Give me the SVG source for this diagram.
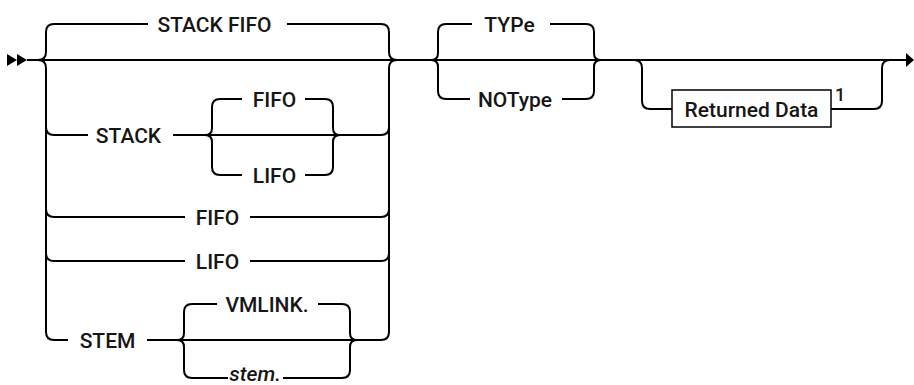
<svg xmlns="http://www.w3.org/2000/svg" width="914" height="385" viewBox="0 0 914 385">
<style>
.c{fill:none;stroke:#000;stroke-width:2}
.a{fill:#000;stroke:none}
.t{font-family:Roboto,"Liberation Sans",Arial,sans-serif;font-size:21px;font-weight:500;fill:#161616;text-anchor:middle}
.i{font-style:italic}
.s{font-family:Roboto,"Liberation Sans",Arial,sans-serif;font-size:18px;font-weight:500;fill:#161616}
.box{fill:#fff;stroke:#000;stroke-width:1.5}
</style>
<rect width="914" height="385" fill="#fff"/>
<g id="connectors">
  <polygon class="a" points="7,54 17,60 7,66"/>
  <polygon class="a" points="17,54 27,60 17,66"/>
  <polygon class="a" points="906,53 914,60 906,67"/>
  <path class="c" d="M27,60 H906"/>
  <path class="c" d="M38,60 Q46,60 46,52 V32 Q46,24 54,24 H148 M287,24 H381 Q389,24 389,32 V52 Q389,60 397,60"/>
  <path class="c" d="M38,60 Q46,60 46,68 V332 Q46,340 54,340 H68"/>
  <path class="c" d="M397,60 Q389,60 389,68 V332 Q389,340 381,340"/>
  <path class="c" d="M46,127 Q46,135 54,135 H88 M173,135 H381 Q389,135 389,127"/>
  <path class="c" d="M205,135 Q212,135 212,128 V107 Q212,99 220,99 H242 M305,99 H325 Q333,99 333,107 V128 Q333,135 340,135"/>
  <path class="c" d="M205,135 Q212,135 212,142 V167 Q212,175 220,175 H242 M305,175 H325 Q333,175 333,167 V142 Q333,135 340,135"/>
  <path class="c" d="M46,209 Q46,217 54,217 H185 M250,217 H381 Q389,217 389,209"/>
  <path class="c" d="M46,253 Q46,261 54,261 H185 M250,261 H381 Q389,261 389,253"/>
  <path class="c" d="M147,340 H381"/>
  <path class="c" d="M177,340 Q184,340 184,333 V312 Q184,304 192,304 H217 M318,304 H342 Q350,304 350,312 V333 Q350,340 357,340"/>
  <path class="c" d="M177,340 Q184,340 184,347 V370 Q184,378 192,378 H228 M283,378 H342 Q350,378 350,370 V347 Q350,340 357,340"/>
  <path class="c" d="M431,60 Q438,60 438,53 V32 Q438,24 446,24 H472 M550,24 H586 Q594,24 594,32 V53 Q594,60 601,60"/>
  <path class="c" d="M431,60 Q438,60 438,67 V91 Q438,99 446,99 H470 M562,99 H586 Q594,99 594,91 V67 Q594,60 601,60"/>
  <path class="c" d="M634,60 Q642,60 642,68 V101 Q642,109 650,109 H672 M831,109 H874 Q882,109 882,101 V68 Q882,60 890,60"/>
</g>
<g id="n-stack-fifo"><text class="t" x="214.5" y="31.5">STACK FIFO</text></g>
<g id="n-stack"><text class="t" x="128.5" y="142.5">STACK</text></g>
<g id="n-inner-fifo"><text class="t" x="274.5" y="106.5">FIFO</text></g>
<g id="n-inner-lifo"><text class="t" x="274.5" y="182.5">LIFO</text></g>
<g id="n-fifo"><text class="t" x="217.5" y="224.5">FIFO</text></g>
<g id="n-lifo"><text class="t" x="217.5" y="268.5">LIFO</text></g>
<g id="n-stem"><text class="t" x="107.5" y="347.5">STEM</text></g>
<g id="n-vmlink"><text class="t" x="267" y="311.5">VMLINK.</text></g>
<g id="n-stemvar"><text class="t i" x="255" y="381">stem.</text></g>
<g id="n-type"><text class="t" x="509.5" y="31.5">TYPe</text></g>
<g id="n-notype"><text class="t" x="515" y="106.5">NOType</text></g>
<g id="n-returned-data">
  <rect class="box" x="672" y="90" width="159" height="37"/>
  <text class="t" x="751.5" y="116.5">Returned Data</text>
  <text class="s" x="835" y="101">1</text>
</g>
</svg>
